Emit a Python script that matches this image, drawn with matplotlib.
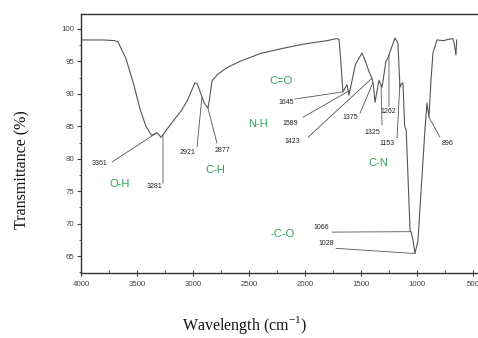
import numpy as np
import matplotlib
matplotlib.use("Agg")
import matplotlib.pyplot as plt
from matplotlib.ticker import MultipleLocator

plt.rcParams["mathtext.fontset"] = "custom"
plt.rcParams["mathtext.rm"] = "Liberation Serif"

# FTIR spectrum (wavenumber cm-1, transmittance %)
wavenumber = [4000, 3800, 3700, 3670, 3600, 3530, 3470, 3420, 3370, 3345, 3320, 3300,
              3286, 3200, 3100, 3050, 3000, 2982, 2960, 2930, 2900, 2866, 2850, 2830,
              2780, 2700, 2580, 2400, 2200, 2000, 1800, 1720, 1696, 1680, 1661, 1625,
              1607, 1580, 1550, 1491, 1460, 1430, 1402, 1390, 1375, 1339, 1312, 1277,
              1260, 1230, 1196, 1170, 1152, 1140, 1125, 1110, 1096, 1062, 1050, 1036,
              1018, 991, 960, 929, 911, 893, 875, 857, 821, 760, 720, 679, 665, 652, 645]
transmittance = [98.3, 98.3, 98.2, 98.0, 95.5, 91.5, 87.5, 85.0, 83.6, 83.8, 84.0, 83.6,
                 83.3, 85.3, 87.5, 89.0, 91.0, 91.7, 91.5, 90.0, 88.6, 87.8, 89.5, 92.0,
                 93.0, 94.0, 95.0, 96.2, 97.0, 97.7, 98.2, 98.5, 98.4, 95.0, 90.3, 91.4,
                 89.8, 92.0, 94.5, 96.3, 95.0, 93.5, 92.4, 91.5, 88.7, 92.1, 91.0, 95.0,
                 95.5, 97.0, 98.6, 97.8, 91.0, 91.5, 91.7, 85.0, 84.4, 69.0, 68.6, 67.5,
                 65.4, 67.4, 76.0, 84.4, 88.6, 86.4, 92.0, 96.3, 98.3, 98.2, 98.4, 98.5,
                 97.5, 96.0, 98.3]

# peak labels: text, text position, leader start, peak wavenumber
peak_text = ["3361", "3281", "2921", "2877", "1645", "1589", "1423", "1375",
             "1325", "1262", "1153", "896", "1066", "1028"]
peak_text_x = [3830, 3339, 3045, 2741, 2170, 2134, 2116, 1598, 1402, 1259, 1268, 723, 1857, 1812]
peak_text_y = [79.2, 75.8, 80.9, 81.2, 88.6, 85.5, 82.6, 86.3, 84.1, 87.3, 82.4, 82.4, 69.4, 67.0]
lead_x = [3723, 3268, 2964, 2786, 2089, 2018, 1973, 1509, 1312, 1250, 1178, 794, 1759, 1723]
lead_y = [79.5, 76.2, 81.8, 82.4, 89.2, 86.4, 83.3, 87.0, 85.2, 88.1, 83.2, 83.3, 68.7, 66.2]
peak_at = [3330, 3268, 2920, 2866, 1661, 1598, 1402, 1393, 1321, 1250, 1153, 893, 1055, 1018]

group_text = ["O-H", "C-H", "N-H", "C=O", "C-N", "-C-O"]
group_x = [3652, 2804, 2420, 2214, 1348, 2196]
group_y = [76.1, 78.2, 85.3, 92.0, 79.3, 68.4]

fig = plt.figure(figsize=(4.78, 3.38), dpi=100)
ax = fig.add_axes([81 / 478, 65 / 338, 1 - 81 / 478, 0.7663])

ax.plot(wavenumber, transmittance, color="#555555", lw=0.8)
ax.set_xlim(4000, 455)
ax.set_ylim(62.4, 102.3)

# curve must be interpolated on increasing x
wn = np.array(wavenumber)[::-1]
tr = np.array(transmittance)[::-1]
for t, tx, ty, lx, ly, px in zip(peak_text, peak_text_x, peak_text_y, lead_x, lead_y, peak_at):
    ax.text(tx, ty, t, ha="center", va="center", fontsize=5, color="#222222",
            family="Liberation Sans")
    ax.annotate("", xy=(px, np.interp(px, wn, tr)), xytext=(lx, ly),
                arrowprops=dict(arrowstyle="-", lw=0.6, color="#555555",
                                shrinkA=0, shrinkB=0))

for t, gx, gy in zip(group_text, group_x, group_y):
    ax.text(gx, gy, t, ha="center", va="center", fontsize=8, color="#2fa35a",
            family="Liberation Sans")

ax.set_xticks([4000, 3500, 3000, 2500, 2000, 1500, 1000, 500])
ax.set_yticks([65, 70, 75, 80, 85, 90, 95, 100])
ax.xaxis.set_minor_locator(MultipleLocator(250))
ax.yaxis.set_minor_locator(MultipleLocator(2.5))
ax.tick_params(axis="x", which="major", direction="inout", length=5, width=0.8,
               labelsize=5.7, colors="#444444", pad=3)
ax.tick_params(axis="x", which="minor", direction="in", length=2.5, width=0.6, colors="#444444")
ax.tick_params(axis="y", which="major", direction="out", length=3, width=0.8,
               labelsize=5.7, colors="#444444", pad=2)
ax.tick_params(axis="y", which="minor", direction="out", length=1.8, width=0.6, colors="#444444")
for lbl in ax.get_xticklabels() + ax.get_yticklabels():
    lbl.set_family("Liberation Sans")

ax.spines["right"].set_visible(False)
for s in ("left", "bottom", "top"):
    ax.spines[s].set_color("#333333")
    ax.spines[s].set_linewidth(1.0)

fig.text(22 / 478, 1 - 170 / 338, "Transmittance (%)", rotation=90, ha="center", va="center",
         fontsize=11.5, family="Liberation Serif", color="#111111")
fig.text(245 / 478, 1 - 325 / 338, "Wavelength (cm$^{\\mathrm{-1}}$)", ha="center", va="center",
         fontsize=11.5, family="Liberation Serif", color="#111111")

fig.savefig("out.png", dpi=100)
